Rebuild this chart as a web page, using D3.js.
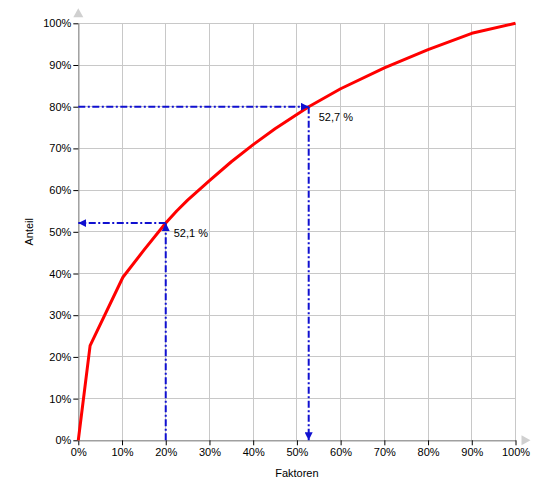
<!DOCTYPE html>
<html>
<head>
<meta charset="utf-8">
<script src="https://cdn.jsdelivr.net/npm/d3@7"></script>
<style>
body{margin:0;background:#fff;}
text{font-family:"Liberation Sans",Arial,sans-serif;}
</style>
</head>
<body>
<svg id="c" width="550" height="500"></svg>
<script>
// Data
const factorShare = [0, 2.7, 10.2, 15, 20, 22.5, 25, 30, 35, 40, 45, 52.7, 60, 70, 80, 90, 100];
const valueShare  = [0, 22.7, 39.1, 45.6, 52.1, 55, 57.6, 62.3, 66.8, 70.9, 74.7, 80, 84.3, 89.3, 93.7, 97.6, 100];
const tickValues = [0,10,20,30,40,50,60,70,80,90,100];
const markers = [
  {x: 20, y: 52.1, label: "52,1 %", dir: "up-left"},
  {x: 52.7, y: 80, label: "52,7 %", dir: "right-down"}
];
const xTitle = "Faktoren", yTitle = "Anteil";

const svg = d3.select("#c");
const m = {l:78.3, r:34.5, t:23.3, b:59.7};
const W = 550, H = 500;
const x = d3.scaleLinear().domain([0,100]).range([m.l, W-m.r]);
const y = d3.scaleLinear().domain([0,100]).range([H-m.b, m.t]);

// grid
const g = svg.append("g");
g.selectAll(".gx").data(tickValues).join("line")
  .attr("x1", d=>x(d)).attr("x2", d=>x(d)).attr("y1", y(0)).attr("y2", y(100))
  .attr("stroke", "#c8c8c8").attr("stroke-width", 1).attr("shape-rendering","crispEdges");
g.selectAll(".gy").data(tickValues).join("line")
  .attr("y1", d=>y(d)).attr("y2", d=>y(d)).attr("x1", x(0)).attr("x2", x(100))
  .attr("stroke", "#c8c8c8").attr("stroke-width", 1).attr("shape-rendering","crispEdges");

// axes
const fmt = d => d + "%";
const xa = svg.append("g").attr("transform", `translate(0,${y(0)})`)
  .call(d3.axisBottom(x).tickValues(tickValues).tickFormat(fmt).tickSize(5).tickSizeOuter(0));
const ya = svg.append("g").attr("transform", `translate(${x(0)},0)`)
  .call(d3.axisLeft(y).tickValues(tickValues).tickFormat(fmt).tickSize(5).tickSizeOuter(0));
[xa, ya].forEach(a => {
  a.select(".domain").attr("stroke", "#a0a0a0").attr("stroke-width", 1.5);
  a.selectAll(".tick line").attr("stroke", "#000");
  a.selectAll(".tick text").attr("fill", "#000").style("font-size", "11px")
   .style("font-family", '"Liberation Sans",Arial,sans-serif');
});
xa.selectAll(".tick text").attr("dy", "0.71em").attr("y", 8);
ya.selectAll(".tick text").attr("x", -7);

// axis arrows
svg.append("path")
  .attr("d", `M${x(0)-5},${y(100)-6} L${x(0)},${y(100)-15} L${x(0)+5},${y(100)-6} Z`)
  .attr("fill", "#d0d0d0");
svg.append("path")
  .attr("d", `M${x(100)+6},${y(0)-5} L${x(100)+15},${y(0)} L${x(100)+6},${y(0)+5} Z`)
  .attr("fill", "#d0d0d0");

// titles
svg.append("text").attr("x", (x(0)+x(100))/2).attr("y", 476.5).attr("text-anchor","middle")
  .style("font-size","11px").attr("fill","#000").text(xTitle);
svg.append("text").attr("transform", `translate(33,${(y(0)+y(100))/2}) rotate(-90)`)
  .attr("text-anchor","middle").style("font-size","11px").attr("fill","#000").text(yTitle);

// curve
const pts = factorShare.map((f,i)=>[f, valueShare[i]]);
svg.append("path").datum(pts)
  .attr("d", d3.line().x(d=>x(d[0])).y(d=>y(d[1])).curve(d3.curveLinear))
  .attr("fill","none").attr("stroke","#ff0000").attr("stroke-width",3)
  .attr("stroke-linejoin","round");

// marker lines
const blue = "#1010d0";
svg.append("defs").append("marker").attr("id","arr")
  .attr("viewBox","0 0 10 10").attr("refX",10).attr("refY",5)
  .attr("markerWidth",8).attr("markerHeight",8).attr("markerUnits","userSpaceOnUse")
  .attr("orient","auto")
  .append("path").attr("d","M0,0 L10,5 L0,10 Z").attr("fill",blue);

function dline(x1,y1,x2,y2){
  svg.append("line").attr("x1",x1).attr("y1",y1).attr("x2",x2).attr("y2",y2)
    .attr("stroke",blue).attr("stroke-width",2)
    .attr("stroke-dasharray","7,2.5,2,2.5").attr("marker-end","url(#arr)");
}
markers.forEach(mk => {
  const px = x(mk.x), py = y(mk.y);
  if (mk.dir === "up-left") {
    dline(px, y(0), px, py);
    dline(px, py, x(0), py);
    svg.append("text").attr("x", px+8).attr("y", py+14).style("font-size","11px")
      .attr("fill","#000").text(mk.label);
  } else {
    dline(x(0), py, px, py);
    dline(px, py, px, y(0));
    svg.append("text").attr("x", px+10).attr("y", py+14).style("font-size","11px")
      .attr("fill","#000").text(mk.label);
  }
});
</script>
</body>
</html>
